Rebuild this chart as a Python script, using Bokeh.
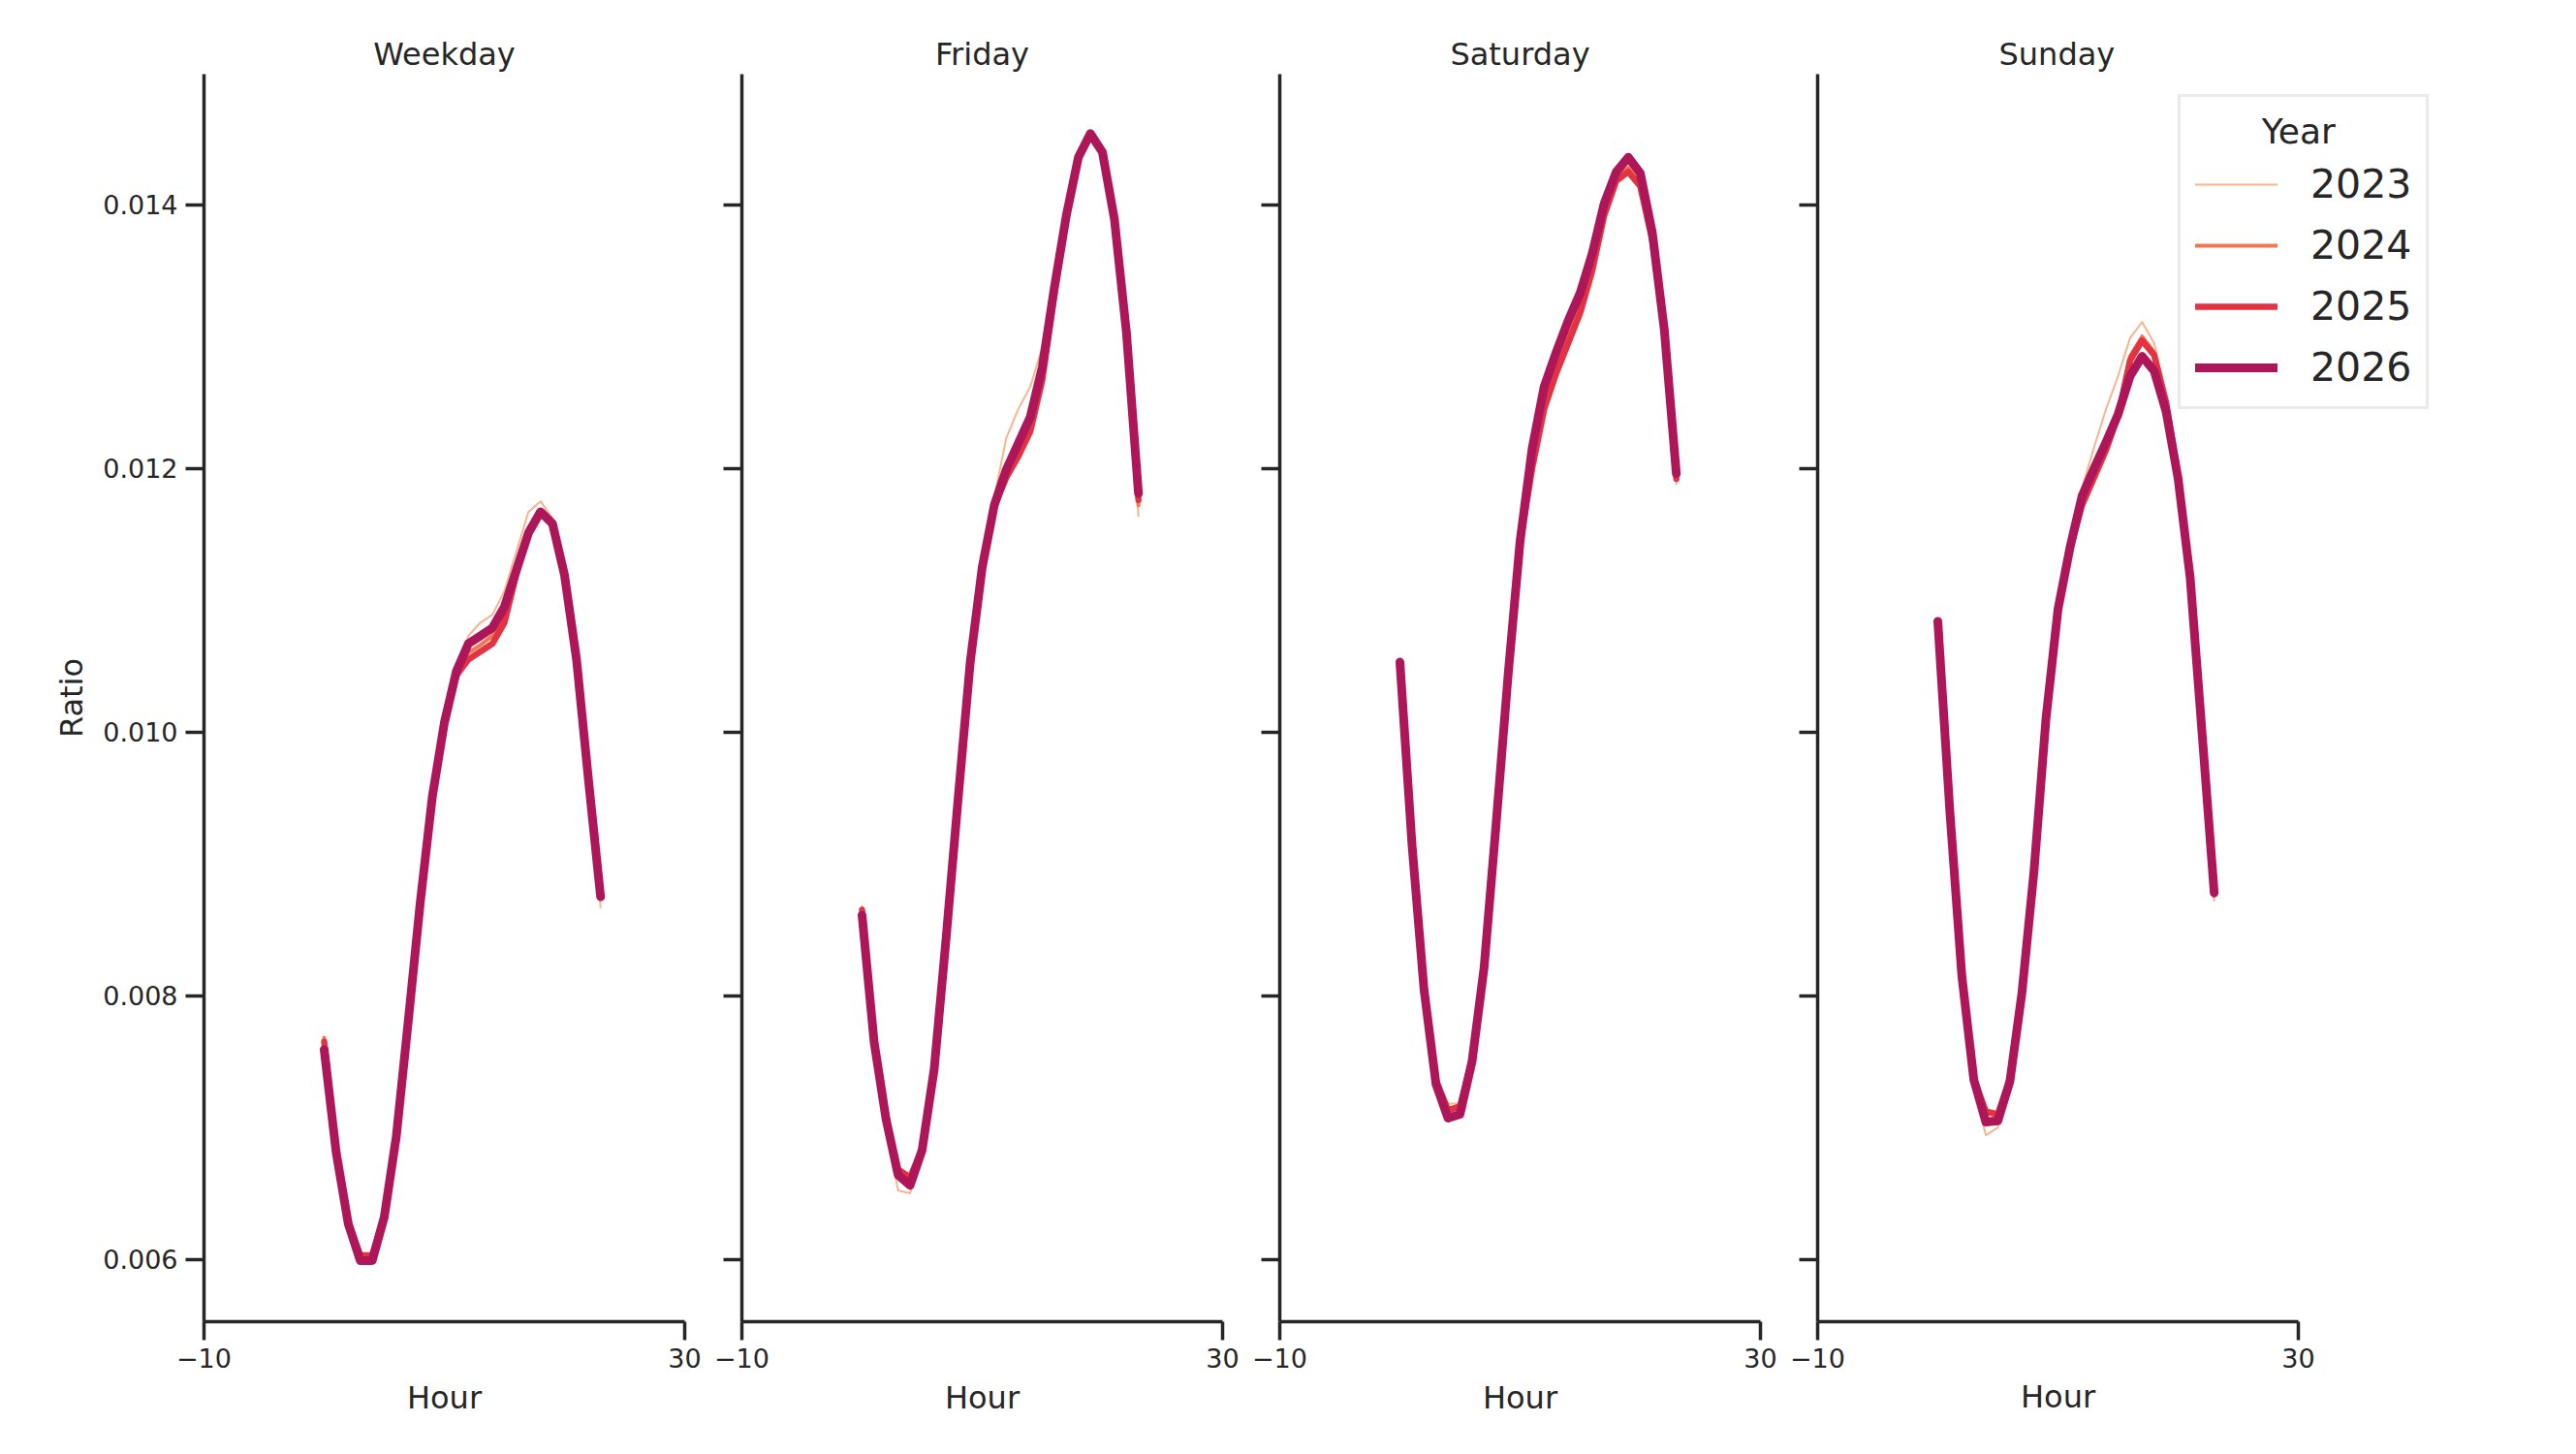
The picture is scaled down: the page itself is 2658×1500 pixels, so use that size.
from bokeh.plotting import figure
from bokeh.layouts import row
from bokeh.models import (Range1d, FixedTicker, PrintfTickFormatter, CustomJSTickFormatter,
                          Legend, LegendItem, Title)
from bokeh.embed import file_html
from bokeh.resources import INLINE

# ---------------- data ----------------
hours = list(range(24))
years = [2023, 2024, 2025, 2026]
panels = ["Weekday", "Friday", "Saturday", "Sunday"]

weekday_2023 = [0.00766, 0.00683, 0.00628, 0.00602, 0.00602, 0.00633, 0.00694, 0.00782, 0.00871, 0.00951,
                0.01007, 0.01046, 0.01073, 0.01083, 0.01089, 0.01107, 0.01137, 0.01167, 0.01175, 0.01162,
                0.01120, 0.01053, 0.00961, 0.00867]
weekday_2024 = [0.00768, 0.00683, 0.00629, 0.00603, 0.00603, 0.00633, 0.00694, 0.00781, 0.00870, 0.00950,
                0.01006, 0.01044, 0.01060, 0.01066, 0.01073, 0.01090, 0.01124, 0.01155, 0.01168, 0.01159,
                0.01119, 0.01055, 0.00963, 0.00873]
weekday_2025 = [0.00765, 0.00682, 0.00628, 0.00603, 0.00603, 0.00633, 0.00693, 0.00781, 0.00871, 0.00951,
                0.01006, 0.01043, 0.01055, 0.01061, 0.01067, 0.01083, 0.01120, 0.01150, 0.01166, 0.01158,
                0.01119, 0.01055, 0.00963, 0.00876]
weekday_2026 = [0.00759, 0.00681, 0.00627, 0.00599, 0.00599, 0.00632, 0.00693, 0.00781, 0.00871, 0.00951,
                0.01007, 0.01046, 0.01067, 0.01073, 0.01079, 0.01095, 0.01123, 0.01151, 0.01167, 0.01158,
                0.01119, 0.01055, 0.00963, 0.00875]

friday_2023 = [0.00868, 0.00765, 0.00702, 0.00652, 0.00650, 0.00678, 0.00742, 0.00842, 0.00950, 0.01055,
               0.01127, 0.01178, 0.01223, 0.01245, 0.01262, 0.01292, 0.01340, 0.01392, 0.01432, 0.01450,
               0.01436, 0.01383, 0.01296, 0.01164]
friday_2024 = [0.00866, 0.00763, 0.00704, 0.00666, 0.00660, 0.00683, 0.00744, 0.00844, 0.00950, 0.01053,
               0.01125, 0.01172, 0.01197, 0.01214, 0.01234, 0.01272, 0.01334, 0.01390, 0.01434, 0.01452,
               0.01438, 0.01386, 0.01300, 0.01172]
friday_2025 = [0.00865, 0.00762, 0.00705, 0.00668, 0.00662, 0.00684, 0.00744, 0.00844, 0.00950, 0.01053,
               0.01125, 0.01171, 0.01193, 0.01209, 0.01228, 0.01267, 0.01332, 0.01390, 0.01435, 0.01452,
               0.01439, 0.01387, 0.01302, 0.01176]
friday_2026 = [0.00861, 0.00765, 0.00706, 0.00664, 0.00656, 0.00683, 0.00744, 0.00844, 0.00950, 0.01053,
               0.01125, 0.01172, 0.01199, 0.01219, 0.01239, 0.01277, 0.01337, 0.01392, 0.01436, 0.01454,
               0.01440, 0.01389, 0.01303, 0.01181]

saturday_2023 = [0.01054, 0.00915, 0.00806, 0.00737, 0.00718, 0.00718, 0.00753, 0.00823, 0.00931, 0.01044,
                 0.01146, 0.01217, 0.01264, 0.01292, 0.01318, 0.01340, 0.01372, 0.01405, 0.01425, 0.01432,
                 0.01416, 0.01372, 0.01300, 0.01188]
saturday_2024 = [0.01053, 0.00915, 0.00806, 0.00736, 0.00714, 0.00716, 0.00752, 0.00822, 0.00930, 0.01043,
                 0.01144, 0.01205, 0.01250, 0.01276, 0.01300, 0.01322, 0.01354, 0.01395, 0.01420, 0.01428,
                 0.01417, 0.01373, 0.01302, 0.01191]
saturday_2025 = [0.01053, 0.00915, 0.00806, 0.00736, 0.00713, 0.00716, 0.00752, 0.00822, 0.00930, 0.01043,
                 0.01143, 0.01200, 0.01245, 0.01272, 0.01295, 0.01318, 0.01350, 0.01392, 0.01418, 0.01425,
                 0.01414, 0.01373, 0.01303, 0.01192]
saturday_2026 = [0.01053, 0.00915, 0.00805, 0.00733, 0.00707, 0.00710, 0.00750, 0.00821, 0.00930, 0.01043,
                 0.01145, 0.01215, 0.01262, 0.01288, 0.01312, 0.01333, 0.01363, 0.01401, 0.01425, 0.01436,
                 0.01424, 0.01379, 0.01305, 0.01196]

sunday_2023 = [0.01083, 0.00940, 0.00813, 0.00730, 0.00694, 0.00700, 0.00738, 0.00806, 0.00898, 0.01012,
               0.01096, 0.01146, 0.01185, 0.01216, 0.01245, 0.01270, 0.01299, 0.01311, 0.01295, 0.01255,
               0.01196, 0.01117, 0.00995, 0.00872]
sunday_2024 = [0.01083, 0.00940, 0.00814, 0.00734, 0.00706, 0.00707, 0.00737, 0.00804, 0.00895, 0.01010,
               0.01092, 0.01140, 0.01175, 0.01197, 0.01218, 0.01243, 0.01285, 0.01300, 0.01288, 0.01250,
               0.01193, 0.01117, 0.00997, 0.00876]
sunday_2025 = [0.01083, 0.00940, 0.00815, 0.00737, 0.00712, 0.00710, 0.00737, 0.00803, 0.00894, 0.01010,
               0.01091, 0.01138, 0.01172, 0.01193, 0.01214, 0.01240, 0.01282, 0.01297, 0.01286, 0.01250,
               0.01194, 0.01118, 0.00998, 0.00877]
sunday_2026 = [0.01084, 0.00940, 0.00815, 0.00736, 0.00704, 0.00705, 0.00735, 0.00802, 0.00894, 0.01010,
               0.01093, 0.01140, 0.01179, 0.01200, 0.01220, 0.01241, 0.01270, 0.01285, 0.01274, 0.01243,
               0.01192, 0.01117, 0.00998, 0.00878]

series = {
    "Weekday": [weekday_2023, weekday_2024, weekday_2025, weekday_2026],
    "Friday": [friday_2023, friday_2024, friday_2025, friday_2026],
    "Saturday": [saturday_2023, saturday_2024, saturday_2025, saturday_2026],
    "Sunday": [sunday_2023, sunday_2024, sunday_2025, sunday_2026],
}

x_ticks = [-10, 30]
y_ticks = [0.006, 0.008, 0.010, 0.012, 0.014]

# ---------------- styles ----------------
colors = ["#f6b48f", "#f37651", "#e13342", "#ad1759"]
widths = [2, 4, 6.5, 9]
INK = "#262626"
FONT = "DejaVu Sans"

FRAME_W, FRAME_H = 496, 1287
X0, X1 = -10, 30
EXTRA = 262          # room inside the last frame for the legend
# (left border, right border, frame width)
geom = [(210, 30, FRAME_W), (29, 30, FRAME_W), (29, 30, FRAME_W), (29, 8, FRAME_W + EXTRA)]

figs = []
for i, name in enumerate(panels):
    bl, br, fw = geom[i]
    x_end = X0 + (X1 - X0) * fw / FRAME_W
    p = figure(frame_width=fw, frame_height=FRAME_H,
               x_range=Range1d(X0, x_end), y_range=Range1d(0.005526, 0.014991),
               output_backend="svg", toolbar_location=None,
               min_border_left=bl, min_border_right=br, min_border_top=76, min_border_bottom=129)
    p.title = Title(text=name, text_font=FONT, text_font_size="32px",
                    text_font_style="normal", text_color=INK, standoff=3)
    if i == 3:
        # centre the title over the -10..30 part of the widened frame
        p.title.align = "left"
        p.title.offset = FRAME_W / 2 - 61
    else:
        p.title.align = "center"
    p.outline_line_color = None
    p.grid.visible = False
    p.background_fill_color = "white"
    p.border_fill_color = "white"

    for ax in (p.xaxis[0], p.yaxis[0]):
        ax.axis_line_color = INK
        ax.axis_line_width = 3.5
        ax.major_tick_line_color = INK
        ax.major_tick_line_width = 3.5
        ax.major_tick_in = 0
        ax.major_tick_out = 19
        ax.minor_tick_line_color = None
        ax.major_label_text_font = FONT
        ax.major_label_text_font_size = "27px"
        ax.major_label_text_color = INK
        ax.axis_label_text_font = FONT
        ax.axis_label_text_font_size = "32px"
        ax.axis_label_text_font_style = "normal"
        ax.axis_label_text_color = INK

    p.xaxis.ticker = FixedTicker(ticks=x_ticks)
    p.xaxis.bounds = (X0, X1)
    p.xaxis.major_label_overrides = {-10: "\u221210", 30: "30"}
    p.xaxis.major_label_standoff = 8
    if i < 3:
        p.xaxis.axis_label = "Hour"
        p.xaxis.axis_label_standoff = 9
    else:
        # axis title centred under the -10..30 span of the widened frame
        p.add_layout(Title(text="Hour", align="left", offset=FRAME_W / 2 - 38.5,
                           text_font=FONT, text_font_size="32px", text_font_style="normal",
                           text_color=INK, standoff=16, vertical_align="top"), "below")

    p.yaxis.ticker = FixedTicker(ticks=y_ticks)
    p.yaxis.major_label_standoff = 8
    if i == 0:
        p.yaxis.formatter = PrintfTickFormatter(format="%.3f")
        p.yaxis.axis_label = "Ratio"
        p.yaxis.axis_label_standoff = 10
    else:
        p.yaxis.formatter = CustomJSTickFormatter(code="return ''")

    renderers = []
    for k, yr in enumerate(years):
        r = p.line(hours, series[name][k], line_color=colors[k], line_width=widths[k],
                   line_cap="round", line_join="round")
        renderers.append(r)

    if i == 3:
        legend = Legend(items=[LegendItem(label=str(yr), renderers=[renderers[k]])
                               for k, yr in enumerate(years)],
                        location=(372, 941), title="\u00a0" * 6 + "Year",
                        title_text_font=FONT, title_text_font_size="36px",
                        title_text_font_style="normal", title_text_color=INK,
                        title_standoff=9,
                        label_text_font=FONT, label_text_font_size="41px", label_text_color=INK,
                        label_standoff=34, glyph_width=85, glyph_height=50, label_height=50,
                        spacing=13, padding=15, margin=0,
                        border_line_color="#d6d6d6", border_line_width=3,
                        background_fill_color="white", background_fill_alpha=0.8)
        p.add_layout(legend)
    figs.append(p)

layout = row(*figs)
open("out.html", "w").write(file_html(layout, INLINE))
